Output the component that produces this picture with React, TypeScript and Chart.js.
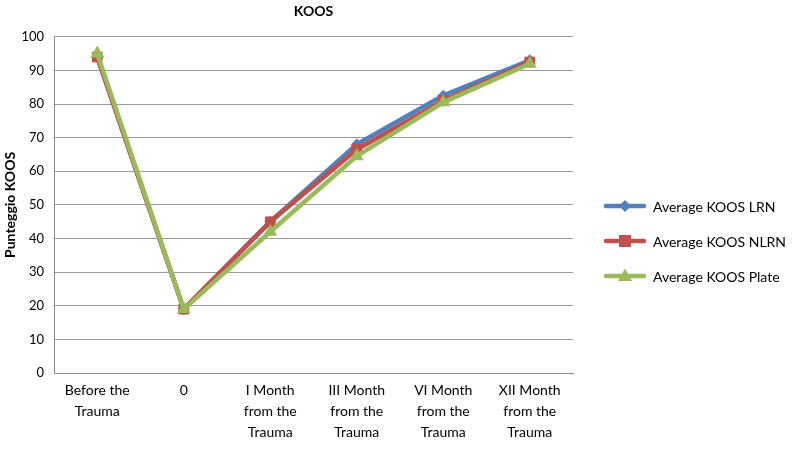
import React, { useEffect, useRef } from "react";
import { Chart, registerables } from "chart.js";

Chart.register(...registerables);

const categories: (string | string[])[] = [
  ["Before the", "Trauma"],
  "0",
  ["I Month", "from the", "Trauma"],
  ["III Month", "from the", "Trauma"],
  ["VI Month", "from the", "Trauma"],
  ["XII Month", "from the", "Trauma"],
];
const koosLRN = [94, 19, 45, 68, 82.5, 93];
const koosNLRN = [94, 19, 45, 66.5, 81, 92.5];
const koosPlate = [95, 19, 42, 64.5, 80.5, 92];
const seriesNames = ["Average KOOS LRN", "Average KOOS NLRN", "Average KOOS Plate"];
const seriesColors = ["#4F81BD", "#C0504D", "#9BBB59"];
const FONT = "Lato";

const sideLegend = {
  id: "sideLegend",
  afterDraw(chart: any) {
    const ctx = chart.ctx;
    const area = chart.chartArea;
    const x0 = area.right + 33;
    const y0 = chart.height / 2 - 21;
    const gap = 35;
    ctx.save();
    chart.data.datasets.forEach((ds: any, i: number) => {
      const y = y0 + i * gap;
      ctx.strokeStyle = ds.borderColor;
      ctx.lineWidth = 4.5;
      ctx.lineCap = "round";
      ctx.beginPath();
      ctx.moveTo(x0, y);
      ctx.lineTo(x0 + 38, y);
      ctx.stroke();
      ctx.fillStyle = ds.backgroundColor;
      ctx.beginPath();
      const cx = x0 + 19;
      if (ds.pointStyle === "rectRot") {
        const r = 6;
        ctx.moveTo(cx, y - r);
        ctx.lineTo(cx + r, y);
        ctx.lineTo(cx, y + r);
        ctx.lineTo(cx - r, y);
      } else if (ds.pointStyle === "rect") {
        ctx.rect(cx - 6, y - 6, 12, 12);
      } else {
        const r = 7.5;
        ctx.moveTo(cx, y - r);
        ctx.lineTo(cx + r * 0.95, y + r * 0.65);
        ctx.lineTo(cx - r * 0.95, y + r * 0.65);
      }
      ctx.closePath();
      ctx.fill();
      ctx.fillStyle = "#000";
      ctx.font = `14px ${FONT}`;
      ctx.textAlign = "left";
      ctx.textBaseline = "middle";
      ctx.fillText(ds.label, x0 + 47, y + 1);
    });
    ctx.restore();
  },
};

export default function App() {
  const ref = useRef<HTMLCanvasElement>(null);
  useEffect(() => {
    if (!ref.current) return;
    const mk = (i: number, data: number[], style: string, radius: number, order: number) => ({
      label: seriesNames[i],
      data,
      borderColor: seriesColors[i],
      backgroundColor: seriesColors[i],
      pointBackgroundColor: seriesColors[i],
      pointBorderColor: seriesColors[i],
      pointStyle: style,
      pointRadius: radius,
      pointBorderWidth: 0,
      borderWidth: 4.5,
      tension: 0,
      order,
    });
    const chart = new Chart(ref.current, {
      type: "line",
      data: {
        labels: categories,
        datasets: [
          mk(0, koosLRN, "rectRot", 6, 2),
          mk(1, koosNLRN, "rect", 7.5, 1),
          mk(2, koosPlate, "triangle", 8, 0),
        ],
      },
      options: {
        animation: false,
        responsive: false,
        layout: { padding: { left: 0, right: 224, top: 0, bottom: 4 } },
        plugins: {
          legend: { display: false },
          tooltip: { enabled: false },
          title: {
            display: true,
            text: "KOOS",
            fullSize: false,
            color: "#000",
            font: { family: FONT, size: 14, weight: "bold" },
            padding: { top: 3, bottom: 17 },
          },
        },
        scales: {
          x: {
            offset: true,
            grid: { display: false, drawTicks: false },
            border: { display: true, color: "#8c8c8c", width: 1 },
            ticks: {
              color: "#000",
              font: { family: FONT, size: 14, lineHeight: 1.5 },
              padding: 7,
              maxRotation: 0,
              autoSkip: false,
            },
          },
          y: {
            min: 0,
            max: 100,
            afterFit: (scale: any) => {
              scale.width = 54;
            },
            grid: { color: "#9a9a9a", lineWidth: 1, drawTicks: false },
            border: { display: true, color: "#8c8c8c", width: 1 },
            ticks: {
              stepSize: 10,
              color: "#000",
              font: { family: FONT, size: 13 },
              padding: 10,
            },
            title: {
              display: true,
              text: "Punteggio KOOS",
              color: "#000",
              font: { family: FONT, size: 14, weight: "bold" },
              padding: { top: 2, bottom: 2 },
            },
          },
        },
      },
      plugins: [sideLegend],
    });
    return () => chart.destroy();
  }, []);
  return (
    <div style={{ position: "fixed", left: 0, top: 0, width: 797, height: 454, background: "#fff" }}>
      <canvas ref={ref} width={797} height={454} style={{ display: "block" }} />
    </div>
  );
}
